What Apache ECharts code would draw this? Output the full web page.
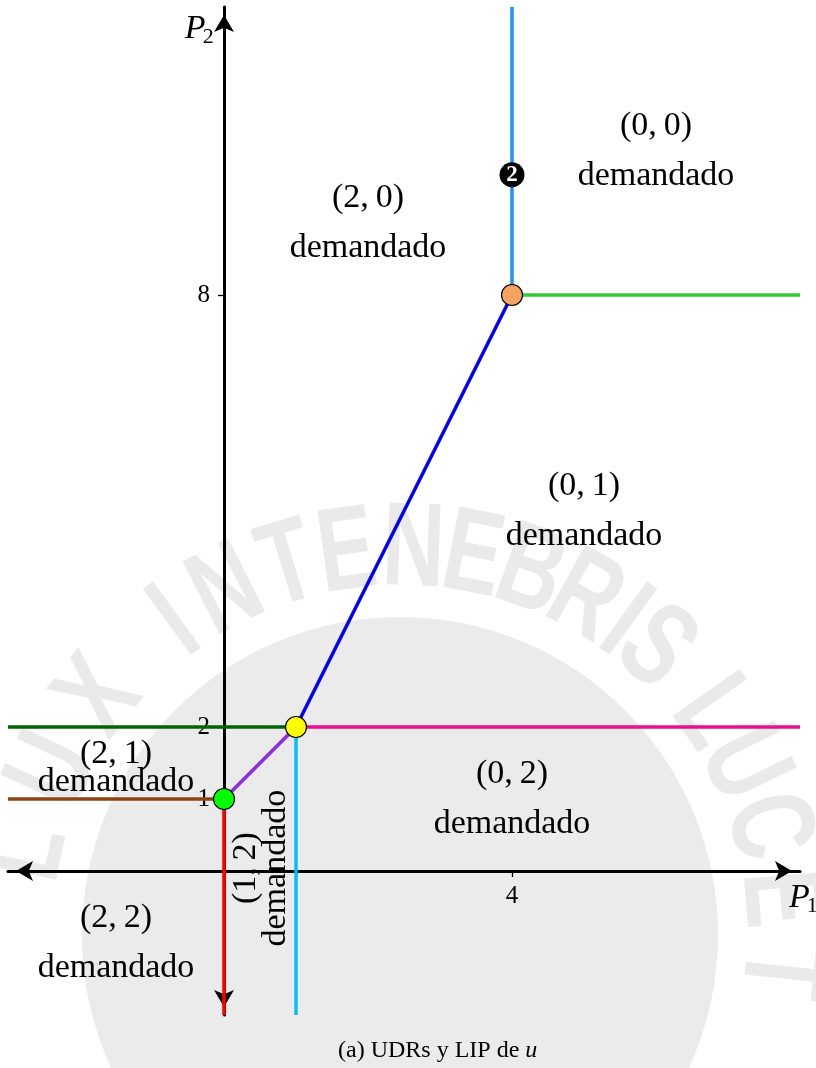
<!DOCTYPE html>
<html>
<head>
<meta charset="utf-8">
<script src="https://cdn.jsdelivr.net/npm/echarts@6/dist/echarts.min.js"></script>
<style>
  html, body { margin: 0; padding: 0; background: #ffffff; }
  #chart { width: 816px; height: 1068px; }
</style>
</head>
<body>
<div id="chart"></div>
<script>
// ---- Frontier segments between demand regions, in (P1, P2) coordinates ----
const segUpperVertical   = [[4, 8], [4, 12]];
const segUpperHorizontal = [[4, 8], [8, 8]];
const segDiagonal        = [[1, 2], [4, 8]];
const segMiddleRight     = [[1, 2], [8, 2]];
const segMiddleLeft      = [[-3, 2], [1, 2]];
const segLowerDiagonal   = [[0, 1], [1, 2]];
const segLowerLeft       = [[-3, 1], [0, 1]];
const segLowerVertical   = [[0, 1], [0, -2]];
const segVerticalOne     = [[1, 2], [1, -2]];

// ---- Highlighted points ----
const pointGreen  = [[0, 1]];
const pointYellow = [[1, 2]];
const pointOrange = [[4, 8]];
const pointMarked = [[4, 9.67]];
const markedText  = '2';

// ---- Region labels: demanded bundle and anchor (P1, P2) ----
const regionNames   = ['(0,\u20090)', '(2,\u20090)', '(0,\u20091)', '(0,\u20092)', '(2,\u20091)', '(2,\u20092)', '(1,\u20092)'];
const regionAnchors = [[6, 10], [2, 9], [5, 5], [4, 1], [-1.5, 1.43], [-1.5, -1], [0.52, 0.04]];
const regionWord    = 'demandado';

// ---- Axes ----
const xRange = [-3, 8];
const yRange = [-2, 12];
const xTickValues  = [1, 4];
const xLabelValues = [4];
const yTickValues  = [1, 2, 8];
const axisTitles   = [{ value: [7.99, -0.37], name: 'P', sub: '1' }, { value: [-0.4, 11.7], name: 'P', sub: '2' }];
const captionText  = '(a) UDRs y LIP de ';
const captionVar   = 'u';

const SERIF = "'Liberation Serif', 'DejaVu Serif', serif";

function segment(data, color) {
  return {
    type: 'line', data: data, showSymbol: false, silent: true,
    lineStyle: { color: color, width: 3.5, cap: 'butt' }, z: 3
  };
}
function dot(data, color, size) {
  return {
    type: 'scatter', data: data, symbol: 'circle', symbolSize: size, silent: true, z: 6,
    itemStyle: { color: color, borderColor: '#000', borderWidth: 1.2, opacity: 1 }
  };
}
// Text anchored at data coordinates (no visible symbol)
function textLayer(data, label, z) {
  return {
    type: 'scatter', data: data, symbolSize: 0, silent: true, z: z || 5,
    itemStyle: { opacity: 1 }, label: Object.assign({ show: true }, label)
  };
}

// Region text items (the (1,2) region is written vertically)
const regionItems = regionNames.map((name, i) => {
  const item = { value: regionAnchors[i], name: name };
  if (i === 4) item.label = { lineHeight: 28 };
  if (i === 6) item.label = { lineHeight: 30, rotate: 90 };
  return item;
});

// Faint seal watermark behind the plot
const sealCenter = [400, 932];
const sealRadius = 380;
const sealLetters = ['L','U','X','I','N','T','E','N','E','B','R','I','S','L','U','C','E','T'];
const sealAngles  = [168, 155, 142, 126, 117, 107, 98, 88, 79, 70, 61, 54, 48, 35, 26, 16, 5, -6];
const sealGraphics = [{
  type: 'circle', silent: true, z: -10,
  shape: { cx: sealCenter[0], cy: sealCenter[1] + 3, r: 318 },
  style: { fill: '#ebebeb' }
}].concat(sealLetters.map((ch, i) => {
  const a = sealAngles[i] * Math.PI / 180;
  return {
    type: 'text', silent: true, z: -10,
    x: sealCenter[0] + sealRadius * Math.cos(a),
    y: sealCenter[1] - sealRadius * Math.sin(a),
    rotation: a - Math.PI / 2,
    scaleX: 0.8, scaleY: 1.1,
    style: {
      text: ch, fill: '#eaeaea', align: 'center', verticalAlign: 'middle',
      font: "bold 108px 'Liberation Sans', sans-serif"
    }
  };
}));

const chart = echarts.init(document.getElementById('chart'), null, { renderer: 'canvas' });

chart.setOption({
  backgroundColor: '#ffffff',
  animation: false,
  title: {
    text: '{n|' + captionText + '}{i|' + captionVar + '}',
    left: 333, top: 1034,
    textStyle: {
      rich: {
        n: { fontFamily: SERIF, fontSize: 24, fontWeight: 'normal', color: '#000' },
        i: { fontFamily: SERIF, fontSize: 24, fontWeight: 'normal', fontStyle: 'italic', color: '#000' }
      }
    }
  },
  graphic: sealGraphics,
  grid: { left: 8, right: 16, top: 7, bottom: 53, containLabel: false, outerBoundsMode: 'none' },
  xAxis: {
    type: 'value', min: xRange[0], max: xRange[1],
    axisLine: {
      show: true, onZero: true, symbol: ['arrow', 'arrow'], symbolSize: [15, 17], symbolOffset: [8, -8],
      lineStyle: { color: '#000', width: 3 }
    },
    axisTick: { show: true, customValues: xTickValues, length: 6, lineStyle: { color: '#000', width: 1.3 } },
    axisLabel: { show: false },
    splitLine: { show: false }
  },
  yAxis: {
    type: 'value', min: yRange[0], max: yRange[1],
    axisLine: {
      show: true, onZero: true, symbol: ['arrow', 'arrow'], symbolSize: [15, 17], symbolOffset: [8, -8],
      lineStyle: { color: '#000', width: 3 }
    },
    axisTick: { show: true, customValues: yTickValues, length: 6, lineStyle: { color: '#000', width: 1.3 } },
    axisLabel: { show: false },
    splitLine: { show: false }
  },
  series: [
    segment(segUpperVertical, '#1e90ff'),
    segment(segUpperHorizontal, '#32cd32'),
    segment(segDiagonal, '#0000ff'),
    segment(segMiddleRight, '#ea0f8a'),
    segment(segMiddleLeft, '#006400'),
    segment(segLowerDiagonal, '#8a2be2'),
    segment(segLowerLeft, '#8b4513'),
    segment(segLowerVertical, '#ff0000'),
    segment(segVerticalOne, '#00bfff'),
    dot(pointGreen, '#00ff00', 21),
    dot(pointYellow, '#ffff00', 21),
    dot(pointOrange, '#f4a460', 21),
    {
      type: 'scatter', data: pointMarked, symbol: 'circle', symbolSize: 25, silent: true, z: 6,
      itemStyle: { color: '#000', opacity: 1 },
      label: {
        show: true, position: 'inside', formatter: markedText,
        fontFamily: SERIF, fontSize: 23, fontWeight: 'bold', color: '#fff'
      }
    },
    // tick labels on the axes
    textLayer(yTickValues.map(v => [0, v]), {
      position: 'left', distance: 14, formatter: p => String(p.value[1]),
      fontFamily: SERIF, fontSize: 25, color: '#000'
    }, 2),
    textLayer(xLabelValues.map(v => [v, 0]), {
      position: 'bottom', distance: 13, formatter: p => String(p.value[0]),
      fontFamily: SERIF, fontSize: 25, color: '#000'
    }, 2),
    // region descriptions
    textLayer(regionItems, {
      position: 'inside', color: '#000',
      fontFamily: SERIF, fontSize: 34, lineHeight: 50, align: 'center', verticalAlign: 'middle',
      formatter: p => p.data.name + '\n' + regionWord
    }),
    // axis titles: italic P with its index set as a subscript
    textLayer(axisTitles, {
      position: 'inside', formatter: p => p.data.name,
      fontFamily: SERIF, fontSize: 34, fontStyle: 'italic', color: '#000'
    }),
    textLayer(axisTitles, {
      position: 'inside', formatter: p => p.data.sub, offset: [13, 9],
      fontFamily: SERIF, fontSize: 22, color: '#000'
    })
  ]
});
</script>
</body>
</html>
